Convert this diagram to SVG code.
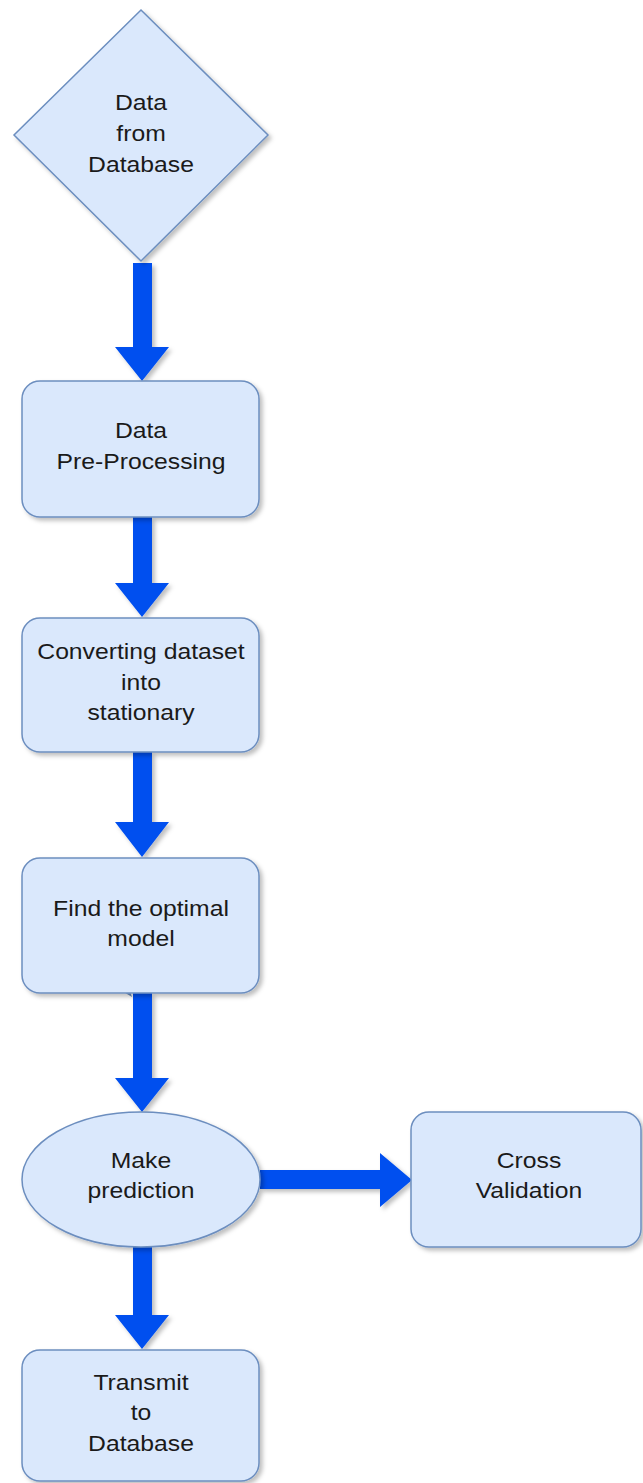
<svg xmlns="http://www.w3.org/2000/svg" width="643" height="1483" viewBox="0 0 643 1483">
<defs>
<filter id="sh" x="-10%" y="-10%" width="130%" height="130%">
<feDropShadow dx="3" dy="3" stdDeviation="2" flood-color="#000" flood-opacity="0.25"/>
</filter>
<style>
.n{fill:#dae8fc;stroke:#6c8ebf;stroke-width:1.5;filter:url(#sh)}
.a{fill:#0050ef;filter:url(#sh)}
.t{font-family:"Liberation Sans",Arial,sans-serif;font-size:21.5px;fill:#1a1a1a;text-anchor:middle}
</style>
</defs>
<rect width="643" height="1483" fill="#fff"/>
<g id="connectors">
<path class="a" d="M133,263 H152 V347 H169 L142,381 L115,347 H133 Z"/>
<path class="a" d="M133,517 H152 V583 H169 L142,617 L115,583 H133 Z"/>
<path class="a" d="M133,752 H152 V822 H169 L142,857 L115,822 H133 Z"/>
<path class="a" d="M133,993 H152 V1078 H169 L142,1112 L115,1078 H133 Z"/>
<path class="a" d="M133,1247 H152 V1315 H169 L142,1349 L115,1315 H133 Z"/>
<path class="a" d="M260,1170 H380 V1153 L412,1180 L380,1207 V1189 H260 Z"/>
<path d="M122,991 L132,985 L130,991 L132,997 Z" fill="#6c8ebf"/>
</g>
<g id="node-data-from-database">
<path class="n" d="M141,10 L268,135 L141,261 L14,135 Z"/>
<g class="t" transform="translate(141,0) scale(1.15,1)">
<text x="0" y="110">Data</text>
<text x="0" y="141">from</text>
<text x="0" y="172">Database</text>
</g>
</g>
<g id="node-preprocessing">
<rect class="n" x="22" y="381" width="237" height="136" rx="18"/>
<g class="t" transform="translate(141,0) scale(1.15,1)">
<text x="0" y="438">Data</text>
<text x="0" y="469">Pre-Processing</text>
</g>
</g>
<g id="node-stationary">
<rect class="n" x="22" y="618" width="237" height="134" rx="18"/>
<g class="t" transform="translate(141,0) scale(1.15,1)">
<text x="0" y="659">Converting dataset</text>
<text x="0" y="690">into</text>
<text x="0" y="720">stationary</text>
</g>
</g>
<g id="node-optimal-model">
<rect class="n" x="22" y="858" width="237" height="135" rx="18"/>
<g class="t" transform="translate(141,0) scale(1.15,1)">
<text x="0" y="916">Find the optimal</text>
<text x="0" y="946">model</text>
</g>
</g>
<g id="node-make-prediction">
<ellipse class="n" cx="141" cy="1179.5" rx="119" ry="67.5"/>
<g class="t" transform="translate(141,0) scale(1.15,1)">
<text x="0" y="1168">Make</text>
<text x="0" y="1198">prediction</text>
</g>
</g>
<g id="node-cross-validation">
<rect class="n" x="411" y="1112" width="230" height="135" rx="18"/>
<g class="t" transform="translate(529,0) scale(1.15,1)">
<text x="0" y="1168">Cross</text>
<text x="0" y="1198">Validation</text>
</g>
</g>
<g id="node-transmit">
<rect class="n" x="22" y="1350" width="237" height="131" rx="18"/>
<g class="t" transform="translate(141,0) scale(1.15,1)">
<text x="0" y="1390">Transmit</text>
<text x="0" y="1420">to</text>
<text x="0" y="1451">Database</text>
</g>
</g>
</svg>
